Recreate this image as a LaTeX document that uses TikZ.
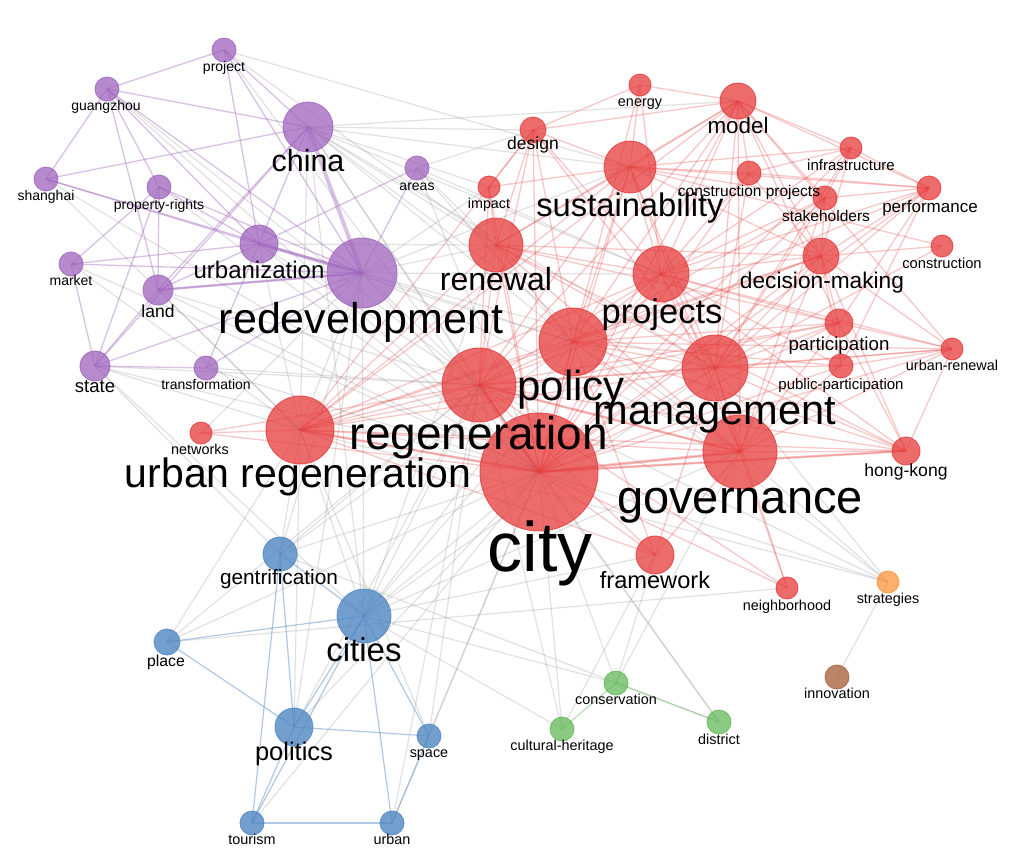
\documentclass[tikz,border=0pt]{standalone}
\usepackage{fontspec}
\setmainfont{Liberation Sans}
\pgfdeclarelayer{back}
\pgfdeclarelayer{bg}
\pgfsetlayers{back,bg,main}
\definecolor{cR}{RGB}{230,60,60}
\definecolor{cP}{RGB}{160,100,190}
\definecolor{cB}{RGB}{80,135,195}
\definecolor{cG}{RGB}{100,185,90}
\definecolor{cO}{RGB}{250,150,60}
\definecolor{cBr}{RGB}{170,100,65}
\definecolor{cE}{RGB}{150,150,150}
\tikzset{
  nd/.style={circle, inner sep=0pt, minimum size=#1pt, line width=0.9pt},
  rN/.style={nd=#1, fill=cR, fill opacity=0.75, draw=cR, draw opacity=0.8},
  pN/.style={nd=#1, fill=cP, fill opacity=0.75, draw=cP, draw opacity=0.8},
  bN/.style={nd=#1, fill=cB, fill opacity=0.8, draw=cB, draw opacity=0.8},
  gN/.style={nd=#1, fill=cG, fill opacity=0.75, draw=cG, draw opacity=0.8},
  oN/.style={nd=#1, fill=cO, fill opacity=0.75, draw=cO, draw opacity=0.8},
  brN/.style={nd=#1, fill=cBr, fill opacity=0.8, draw=cBr, draw opacity=0.8},
  lb/.style={font=\fontsize{#1}{#1}\selectfont, anchor=base, yshift={-0.27*#1pt}, inner sep=0pt, text=black},
  eR/.style={draw=cR, draw opacity=0.28, line width=1.3pt},
  eP/.style={draw=cP, draw opacity=0.4, line width=1.3pt},
  eB/.style={draw=cB, draw opacity=0.45, line width=1.2pt},
  eG/.style={draw=cG, draw opacity=0.45, line width=1.2pt},
  eX/.style={draw=cE, draw opacity=0.28, line width=1.2pt},
}
\begin{document}
\begin{tikzpicture}[x=1pt,y=-1pt]
\begin{pgfonlayer}{back}
\fill[white] (0,0) rectangle (1013,868);
\end{pgfonlayer}
\useasboundingbox (0,0) rectangle (1013,868);
% ---------- purple ----------
\node[pN=24] (project) at (224,50) {};
\node[pN=24] (guangzhou) at (107,89) {};
\node[pN=50] (china) at (308,127) {};
\node[pN=24] (areas) at (417,168) {};
\node[pN=24] (shanghai) at (46,179) {};
\node[pN=24] (proprights) at (159,187) {};
\node[pN=38] (urbanization) at (259,244) {};
\node[pN=70] (redev) at (362,273) {};
\node[pN=24] (market) at (71,264) {};
\node[pN=30] (land) at (158,290) {};
\node[pN=30] (state) at (95,366) {};
\node[pN=24] (transf) at (206,368) {};
% ---------- red ----------
\node[rN=22] (energy) at (640,85) {};
\node[rN=36] (model) at (738,101) {};
\node[rN=26] (design) at (533,130) {};
\node[rN=22] (infra) at (851,148) {};
\node[rN=52] (sust) at (630,167) {};
\node[rN=24] (cproj) at (749,173) {};
\node[rN=24] (stake) at (825,198) {};
\node[rN=24] (perf) at (929,188) {};
\node[rN=22] (impact) at (489,187) {};
\node[rN=54] (renewal) at (496,245) {};
\node[rN=56] (projects) at (661,274) {};
\node[rN=36] (dm) at (821,256) {};
\node[rN=22] (constr) at (942,246) {};
\node[rN=28] (part) at (839,323) {};
\node[rN=22] (urenew) at (952,349) {};
\node[rN=24] (ppart) at (841,366) {};
\node[rN=68] (policy) at (573,342) {};
\node[rN=66] (mgmt) at (715,368) {};
\node[rN=74] (regen) at (479,385) {};
\node[rN=68] (ur) at (300,430) {};
\node[rN=22] (networks) at (201,433) {};
\node[rN=118] (city) at (539,472) {};
\node[rN=74] (gov) at (740,452) {};
\node[rN=28] (hk) at (906,451) {};
\node[rN=38] (frame) at (655,555) {};
\node[rN=22] (neigh) at (787,588) {};
% ---------- others ----------
\node[oN=22] (strat) at (888,582) {};
\node[brN=24] (innov) at (837,677) {};
\node[gN=24] (conserv) at (616,683) {};
\node[gN=24] (cultural) at (562,729) {};
\node[gN=24] (district) at (719,722) {};
% ---------- blue ----------
\node[bN=34] (gentr) at (280,554) {};
\node[bN=54] (cities) at (364,616) {};
\node[bN=26] (place) at (167,642) {};
\node[bN=38] (politics) at (294,727) {};
\node[bN=24] (space) at (429,736) {};
\node[bN=24] (tourism) at (252,823) {};
\node[bN=24] (urban) at (392,823) {};

\begin{pgfonlayer}{bg}
% gray cross-cluster edges
\foreach \a/\b in {china/sust,china/renewal,china/regen,china/city,china/policy,china/mgmt,china/gov,china/projects,china/ur,china/design,china/impact,china/model,
 redev/regen,redev/city,redev/policy,redev/renewal,redev/ur,redev/gov,redev/mgmt,redev/projects,redev/sust,redev/impact,redev/networks,redev/gentr,redev/cities,redev/politics,
 urbanization/city,urbanization/regen,urbanization/ur,urbanization/policy,urbanization/renewal,
 project/sust,project/city,project/renewal,guangzhou/city,guangzhou/regen,shanghai/city,shanghai/ur,market/city,market/ur,
 land/city,land/regen,land/ur,state/city,state/ur,state/regen,state/cities,state/gentr,transf/city,transf/regen,
 areas/city,areas/renewal,areas/policy,areas/design,areas/projects,proprights/city,
 gentr/ur,gentr/city,gentr/regen,gentr/policy,gentr/district,cities/city,cities/regen,cities/ur,cities/policy,cities/gov,cities/mgmt,cities/projects,cities/renewal,cities/china,
 cities/conserv,cities/cultural,cities/frame,
 politics/city,politics/regen,politics/ur,place/ur,place/city,place/regen,place/neigh,space/city,space/regen,space/ur,urban/city,urban/regen,tourism/city,
 cultural/city,cultural/regen,cultural/frame,conserv/city,conserv/gov,conserv/frame,district/city,district/regen,
 strat/city,strat/gov,strat/mgmt,strat/regen,strat/ur,strat/innov,strat/policy}
  \draw[eX] (\a.center) -- (\b.center);
% purple edges
\foreach \a/\b in {project/guangzhou,project/china,project/urbanization,project/redev,guangzhou/china,guangzhou/shanghai,guangzhou/land,guangzhou/redev,guangzhou/urbanization,guangzhou/proprights,
 shanghai/china,shanghai/redev,shanghai/urbanization,proprights/land,proprights/market,proprights/redev,proprights/state,proprights/urbanization,
 china/urbanization,china/land,china/state,urbanization/redev,urbanization/land,urbanization/areas,urbanization/transf,urbanization/market,
 market/state,market/redev,land/state,land/redev,state/redev,state/transf,transf/redev,areas/redev}
  \draw[eP] (\a.center) -- (\b.center);
\draw[eP, line width=4pt] (china.center) -- (redev.center);
\draw[eP, line width=3pt] (urbanization.center) -- (redev.center);
\draw[eP, line width=2.5pt] (land.center) -- (redev.center);
% red edges
\foreach \a/\b in {city/regen,city/ur,city/policy,city/mgmt,city/gov,city/projects,city/sust,city/renewal,city/dm,city/model,city/design,city/impact,city/part,city/ppart,city/urenew,city/hk,city/frame,city/neigh,city/networks,city/perf,city/stake,city/cproj,city/infra,city/energy,
 regen/ur,regen/policy,regen/mgmt,regen/gov,regen/projects,regen/sust,regen/renewal,regen/model,regen/design,regen/hk,regen/frame,regen/neigh,regen/networks,regen/part,regen/dm,regen/impact,regen/urenew,
 ur/policy,ur/mgmt,ur/gov,ur/projects,ur/sust,ur/renewal,ur/hk,ur/networks,ur/frame,ur/model,ur/design,ur/dm,ur/part,
 policy/mgmt,policy/gov,policy/projects,policy/sust,policy/renewal,policy/model,policy/design,policy/dm,policy/part,policy/ppart,policy/hk,policy/frame,policy/perf,policy/urenew,policy/stake,
 mgmt/gov,mgmt/projects,mgmt/sust,mgmt/renewal,mgmt/model,mgmt/dm,mgmt/part,mgmt/ppart,mgmt/hk,mgmt/perf,mgmt/stake,mgmt/infra,mgmt/cproj,mgmt/urenew,mgmt/constr,mgmt/frame,mgmt/design,mgmt/neigh,
 gov/projects,gov/sust,gov/renewal,gov/model,gov/dm,gov/part,gov/ppart,gov/hk,gov/frame,gov/neigh,gov/urenew,gov/stake,
 projects/sust,projects/renewal,projects/model,projects/dm,projects/design,projects/energy,projects/cproj,projects/stake,projects/perf,projects/infra,projects/part,projects/ppart,projects/hk,projects/urenew,
 sust/renewal,sust/model,sust/design,sust/energy,sust/cproj,sust/perf,sust/infra,sust/dm,sust/impact,sust/stake,sust/constr,
 renewal/model,renewal/design,renewal/impact,renewal/dm,renewal/part,renewal/hk,
 model/design,model/energy,model/perf,model/infra,model/cproj,model/stake,model/dm,model/part,model/urenew,
 dm/stake,dm/perf,dm/part,dm/ppart,dm/urenew,dm/infra,dm/cproj,dm/hk,dm/constr,
 perf/infra,perf/stake,perf/cproj,perf/part,perf/ppart,infra/cproj,infra/stake,
 part/ppart,part/urenew,part/hk,urenew/ppart,urenew/hk,energy/design,design/impact}
  \draw[eR] (\a.center) -- (\b.center);
\draw[eR, line width=3pt] (city.center) -- (regen.center);
\draw[eR, line width=3pt] (city.center) -- (gov.center);
\draw[eR, line width=2.5pt] (regen.center) -- (gov.center);
\draw[eR, line width=2.5pt] (ur.center) -- (city.center);
\draw[eR, line width=2.5pt] (city.center) -- (hk.center);
% blue edges
\foreach \a/\b in {gentr/cities,gentr/politics,gentr/tourism,place/cities,place/politics,cities/politics,cities/space,cities/urban,cities/tourism,
 politics/space,politics/tourism,tourism/urban,space/urban}
  \draw[eB] (\a.center) -- (\b.center);
% green edges
\foreach \a/\b in {conserv/cultural,conserv/district}
  \draw[eG] (\a.center) -- (\b.center);
\end{pgfonlayer}

% ---------- labels ----------
\node[lb=14] (project-l) at (224,68) {project};
\node[lb=14] (guangzhou-l) at (106,107) {guangzhou};
\node[lb=30.5] (china-l) at (308,163) {china};
\node[lb=14] (areas-l) at (417,187) {areas};
\node[lb=14] (shanghai-l) at (46,197) {shanghai};
\node[lb=14] (proprights-l) at (159,206) {property-rights};
\node[lb=24] (urbanization-l) at (259,272) {urbanization};
\node[lb=43] (redev-l) at (361,322) {redevelopment};
\node[lb=14] (market-l) at (71,282) {market};
\node[lb=17.5] (land-l) at (158,313) {land};
\node[lb=18.5] (state-l) at (95,387) {state};
\node[lb=14] (transf-l) at (206,386) {transformation};
\node[lb=14.4] (energy-l) at (640,103) {energy};
\node[lb=22.4] (model-l) at (738,127) {model};
\node[lb=17.5] (design-l) at (533,145) {design};
\node[lb=15] (infra-l) at (851,166) {infrastructure};
\node[lb=32.7] (sust-l) at (630,208) {sustainability};
\node[lb=15.5] (cproj-l) at (749,192) {construction projects};
\node[lb=15.5] (stake-l) at (826,217) {stakeholders};
\node[lb=17] (perf-l) at (930,208) {performance};
\node[lb=14.3] (impact-l) at (489,205) {impact};
\node[lb=32] (renewal-l) at (496,282) {renewal};
\node[lb=34.5] (projects-l) at (662,314) {projects};
\node[lb=22.7] (dm-l) at (822,282) {decision-making};
\node[lb=14.7] (constr-l) at (942,265) {construction};
\node[lb=18.7] (part-l) at (839,345) {participation};
\node[lb=14.4] (urenew-l) at (952,367) {urban-renewal};
\node[lb=15] (ppart-l) at (841,385) {public-participation};
\node[lb=42] (policy-l) at (571,389) {policy};
\node[lb=41.6] (mgmt-l) at (715,413) {management};
\node[lb=46] (regen-l) at (479,437) {regeneration};
\node[lb=41] (ur-l) at (298,476) {urban regeneration};
\node[lb=14.4] (networks-l) at (200,451) {networks};
\node[lb=70] (city-l) at (540,553) {city};
\node[lb=47] (gov-l) at (740,501) {governance};
\node[lb=17.6] (hk-l) at (906,472) {hong-kong};
\node[lb=23.6] (frame-l) at (655,582) {framework};
\node[lb=14.4] (neigh-l) at (787,607) {neighborhood};
\node[lb=14.4] (strat-l) at (888,600) {strategies};
\node[lb=14.4] (innov-l) at (837,695) {innovation};
\node[lb=14.4] (conserv-l) at (616,701) {conservation};
\node[lb=14.4] (cultural-l) at (562,747) {cultural-heritage};
\node[lb=14.4] (district-l) at (719,741) {district};
\node[lb=20.8] (gentr-l) at (279,579) {gentrification};
\node[lb=33] (cities-l) at (364,653) {cities};
\node[lb=15.8] (place-l) at (166,662) {place};
\node[lb=25.5] (politics-l) at (294,754) {politics};
\node[lb=14.4] (space-l) at (429,754) {space};
\node[lb=14.4] (tourism-l) at (252,841) {tourism};
\node[lb=14.4] (urban-l) at (392,841) {urban};
\end{tikzpicture}
\end{document}
